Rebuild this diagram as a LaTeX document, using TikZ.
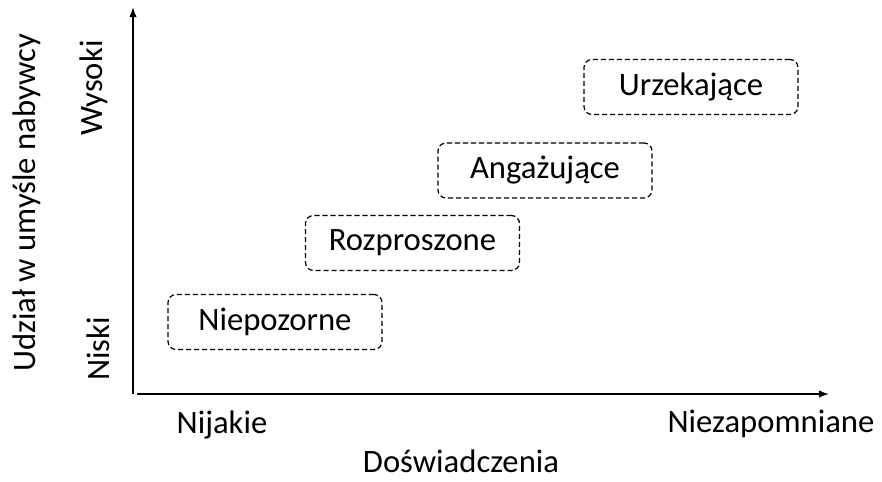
\documentclass[tikz,border=0pt]{standalone}
\usepackage{fontspec}
\setmainfont{Carlito}
\usetikzlibrary{arrows.meta}
\begin{document}
\begin{tikzpicture}[x=0.75pt,y=-0.75pt,
  stage/.style={draw,dash pattern=on 3.8pt off 2.2pt,line width=0.9pt,rounded corners=6pt,minimum width=160.5pt,minimum height=41.25pt,inner sep=0pt},
  axis/.style={line width=1.1pt,-{Latex[length=7.5pt,width=5.5pt]}},
  tick/.style={inner sep=1pt}]
  \useasboundingbox (0,0) rectangle (882,482);
  \fontsize{24.5}{29}\selectfont
  \coordinate (origin) at (133,394);
  \coordinate (xstart) at (137,394);
  \coordinate (ytop) at (133,7);
  \coordinate (xend) at (829,394);
  \draw[axis] (origin) -- (ytop);
  \draw[axis] (xstart) -- (xend);
  \node[stage] (niepozorne) at (275,322) {Niepozorne};
  \node[stage] (rozproszone) at (412.5,243) {Rozproszone};
  \node[stage] (angazujace) at (545,170.5) {Angażujące};
  \node[stage] (urzekajace) at (691,87) {Urzekające};
  \node[tick,anchor=base] (nijakie) at (222,433) {Nijakie};
  \node[tick,anchor=base] (niezapomniane) at (771,432) {Niezapomniane};
  \node[tick,anchor=base] (doswiadczenia) at (461,472) {Doświadczenia};
  \node[tick,rotate=90] (niski) at (98,349) {Niski};
  \node[tick,rotate=90] (wysoki) at (94,88) {Wysoki};
  \node[tick,rotate=90] (udzial) at (27,203) {Udział w umyśle nabywcy};
\end{tikzpicture}
\end{document}
